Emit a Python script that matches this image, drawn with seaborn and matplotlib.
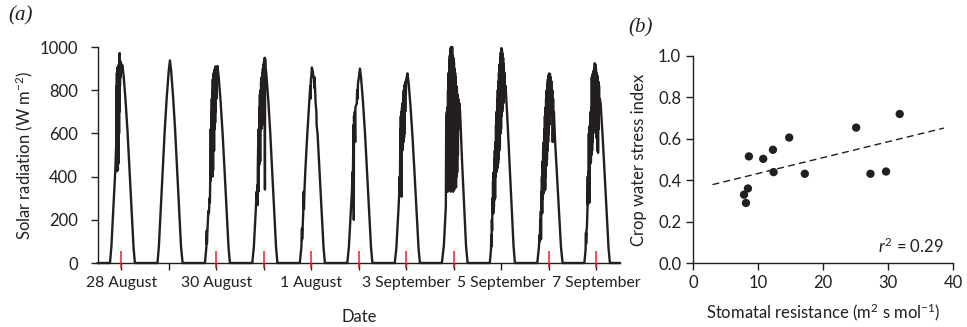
import numpy as np
import pandas as pd
import matplotlib
matplotlib.use("Agg")
import matplotlib.pyplot as plt
import seaborn as sns

# ---- (a) solar radiation, 28 August - 7 September: (hour of day, W m-2) ----
aug28 = [(0, 0), (6.3, 0), (7.0, 73), (8.0, 247), (9.0, 430), (9.5, 560), (9.6, 820), (9.7, 430),
         (9.8, 880), (9.9, 425), (10.0, 900), (10.1, 440), (10.2, 905), (10.3, 430), (10.4, 910),
         (10.5, 460), (10.6, 905), (10.7, 520), (10.8, 920), (10.9, 600), (11.0, 940), (11.1, 700),
         (11.2, 972), (11.35, 820), (11.5, 935), (11.7, 860), (11.9, 925), (12.1, 900), (12.6, 915),
         (13.2, 866), (14.2, 750), (15.2, 604), (16.2, 430), (17.2, 247), (18.2, 73), (18.9, 0)]
aug29 = [(6.3, 0), (7.0, 75), (8.0, 253), (9.0, 441), (10.0, 619), (11.0, 769), (12.0, 891),
         (12.6, 938), (13.2, 891), (14.2, 769), (15.2, 619), (16.2, 441), (17.2, 253), (18.2, 75),
         (19.0, 0)]
aug30 = [(6.3, 0), (7.0, 73), (7.2, 150), (7.3, 90), (7.5, 140), (7.8, 200), (8.0, 240), (8.3, 230),
         (8.6, 300), (8.8, 280), (9.0, 420), (9.1, 380), (9.2, 620), (9.35, 420), (9.5, 700),
         (9.6, 450), (9.75, 760), (9.85, 420), (10.0, 800), (10.1, 400), (10.25, 850), (10.4, 430),
         (10.5, 870), (10.6, 700), (10.75, 880), (10.9, 520), (11.0, 890), (11.15, 620), (11.3, 900),
         (11.45, 650), (11.6, 910), (11.75, 700), (11.9, 900), (12.05, 760), (12.2, 905), (12.4, 840),
         (12.6, 912), (13.2, 866), (14.2, 748), (15.2, 602), (16.2, 429), (17.2, 246), (18.2, 73),
         (18.9, 0)]
aug31 = [(6.2, 0), (7.0, 75), (8.0, 250), (8.4, 330), (8.6, 280), (8.8, 360), (8.9, 268), (9.0, 440),
         (9.2, 560), (9.3, 330), (9.45, 620), (9.6, 450), (9.75, 720), (9.9, 460), (10.05, 780),
         (10.2, 470), (10.35, 800), (10.5, 650), (10.65, 840), (10.8, 620), (10.95, 860), (11.1, 700),
         (11.25, 880), (11.4, 640), (11.55, 900), (11.7, 780), (11.85, 920), (12.0, 800), (12.15, 935),
         (12.3, 860), (12.45, 950), (12.6, 340), (12.7, 945), (12.85, 900), (13.2, 888), (14.2, 767),
         (15.2, 617), (16.2, 439), (17.2, 252), (18.2, 75), (18.9, 0)]
sep01 = [(6.2, 0), (7.0, 72), (7.3, 160), (7.4, 110), (7.8, 200), (8.0, 244), (8.2, 330), (8.3, 250),
         (8.6, 340), (9.0, 425), (10.0, 597), (11.0, 742), (11.5, 820), (11.6, 760), (11.8, 850),
         (12.0, 860), (12.3, 905), (12.6, 895), (13.2, 860), (13.6, 810), (13.7, 860), (14.2, 742),
         (14.6, 700), (14.7, 640), (15.2, 597), (16.2, 425), (17.2, 244), (18.2, 72), (18.9, 0)]
sep02 = [(6.2, 0), (7.0, 72), (8.0, 243), (8.6, 340), (8.8, 420), (9.0, 380), (9.2, 520), (9.3, 480),
         (9.4, 640), (9.5, 200), (9.6, 680), (9.8, 620), (10.0, 700), (10.2, 560), (10.3, 720),
         (11.0, 738), (11.2, 800), (11.4, 760), (11.6, 830), (12.0, 855), (12.6, 900), (13.2, 855),
         (14.2, 738), (15.2, 594), (16.2, 423), (17.2, 243), (18.2, 72), (18.9, 0)]
sep03 = [(6.2, 0), (7.0, 70), (8.0, 237), (8.5, 330), (8.7, 400), (8.8, 330), (9.0, 620), (9.1, 420),
         (9.25, 680), (9.4, 350), (9.55, 700), (9.7, 307), (9.85, 720), (10.0, 520), (10.15, 740),
         (10.3, 540), (10.45, 780), (10.6, 560), (10.75, 800), (10.9, 580), (11.05, 820), (11.2, 600),
         (11.35, 830), (11.5, 700), (11.65, 840), (11.8, 780), (12.0, 850), (12.6, 878), (13.2, 834),
         (14.2, 720), (15.2, 579), (16.2, 413), (17.2, 237), (18.2, 70), (18.9, 0)]
sep04 = [(6.0, 0), (7.0, 80), (8.0, 260), (8.2, 680), (8.35, 330), (8.5, 700), (8.65, 340), (8.8, 720),
         (8.95, 330), (9.1, 800), (9.25, 350), (9.4, 880), (9.55, 340), (9.7, 940), (9.85, 360),
         (10.0, 960), (10.15, 340), (10.3, 990), (10.45, 330), (10.6, 1000), (10.75, 360), (10.9, 985),
         (11.05, 340), (11.2, 1000), (11.35, 380), (11.5, 960), (11.65, 330), (11.8, 950), (11.95, 350),
         (12.1, 930), (12.25, 340), (12.4, 900), (12.55, 360), (12.7, 880), (12.85, 380), (13.0, 860),
         (13.15, 350), (13.3, 820), (13.45, 400), (13.6, 800), (13.75, 420), (13.9, 780), (14.1, 500),
         (14.3, 760), (14.5, 620), (14.8, 740), (15.2, 700), (16.2, 470), (17.2, 270), (18.2, 80),
         (19.0, 0)]
sep05 = [(6.2, 0), (6.8, 60), (7.0, 130), (7.1, 76), (7.25, 200), (7.4, 150), (7.55, 300), (7.7, 230),
         (7.85, 380), (8.0, 230), (8.15, 420), (8.3, 260), (8.45, 480), (8.6, 292), (8.75, 520),
         (8.9, 300), (9.05, 560), (9.2, 400), (9.35, 640), (9.5, 420), (9.65, 700), (9.8, 430),
         (9.95, 760), (10.1, 440), (10.25, 800), (10.4, 460), (10.55, 840), (10.7, 480), (10.85, 880),
         (11.0, 520), (11.15, 920), (11.3, 540), (11.45, 950), (11.6, 600), (11.75, 975), (11.9, 620),
         (12.05, 995), (12.2, 680), (12.35, 985), (12.5, 700), (12.65, 970), (12.8, 720), (12.95, 950),
         (13.1, 740), (13.3, 920), (13.5, 780), (13.7, 880), (13.9, 800), (14.2, 820), (15.2, 650),
         (16.2, 460), (17.2, 260), (18.2, 80), (18.9, 0)]
sep06 = [(6.2, 0), (7.0, 70), (7.4, 130), (7.5, 100), (7.7, 200), (7.8, 120), (8.0, 240), (8.1, 110),
         (8.25, 330), (8.4, 230), (8.55, 400), (8.7, 230), (8.85, 470), (9.0, 300), (9.15, 520),
         (9.3, 320), (9.45, 560), (9.6, 330), (9.75, 620), (9.9, 350), (10.05, 680), (10.2, 340),
         (10.35, 720), (10.5, 400), (10.65, 760), (10.8, 450), (10.95, 800), (11.1, 480), (11.25, 830),
         (11.4, 520), (11.55, 850), (11.7, 560), (11.85, 870), (12.0, 600), (12.2, 878), (12.4, 640),
         (12.6, 875), (12.8, 680), (13.0, 860), (13.2, 700), (13.4, 840), (13.6, 720), (13.8, 800),
         (14.0, 560), (14.2, 760), (14.4, 600), (14.6, 700), (15.2, 565), (16.2, 400), (17.2, 230),
         (18.2, 70), (19.0, 0)]
sep07 = [(6.0, 0), (6.6, 60), (6.8, 140), (6.9, 90), (7.1, 150), (7.3, 170), (7.6, 260), (7.7, 400),
         (7.8, 270), (7.95, 420), (8.1, 290), (8.25, 600), (8.4, 300), (8.55, 630), (8.7, 280),
         (8.85, 640), (9.0, 460), (9.15, 700), (9.3, 470), (9.45, 720), (9.6, 500), (9.75, 860),
         (9.9, 520), (10.05, 870), (10.2, 560), (10.35, 880), (10.5, 600), (10.65, 890), (10.8, 620),
         (10.95, 900), (11.1, 640), (11.25, 925), (11.4, 700), (11.55, 920), (11.7, 720), (11.85, 900),
         (12.0, 580), (12.15, 880), (12.3, 600), (12.45, 870), (12.6, 520), (12.75, 860), (12.9, 510),
         (13.05, 840), (13.2, 620), (13.4, 820), (13.6, 700), (13.8, 760), (14.2, 740), (15.2, 590),
         (16.2, 420), (17.2, 240), (18.2, 70), (18.9, 0), (24, 0)]

days = [aug28, aug29, aug30, aug31, sep01, sep02, sep03, sep04, sep05, sep06, sep07]
date_labels = ["28 August", "30 August", "1 August", "3 September", "5 September", "7 September"]
# days (0 = 28 August) on which the crop was measured
measured_days = [0, 2, 3, 4, 5, 6, 7, 9, 10]

# ---- (b) crop water stress index vs stomatal resistance ----
stomatal_res = [7.85, 8.15, 8.45, 8.6, 10.8, 12.3, 12.4, 14.8, 17.2, 25.1, 27.3, 29.7, 31.8]
cwsi = [0.33, 0.29, 0.36, 0.515, 0.503, 0.547, 0.439, 0.606, 0.431, 0.654, 0.431, 0.442, 0.72]

rows = []
for d, pts in enumerate(days):
    for h, w in pts:
        rows.append((d + h / 24.0, w))
rad = pd.DataFrame(rows, columns=["day", "radiation"])
pts_b = pd.DataFrame({"res": stomatal_res, "cwsi": cwsi})

sns.set_style("ticks")
plt.rcParams["font.family"] = ["Lato", "DejaVu Sans"]
plt.rcParams["mathtext.fontset"] = "custom"
plt.rcParams["mathtext.rm"] = "Lato"
plt.rcParams["mathtext.it"] = "Lato:italic"

ink = "#231f20"
fs = 12

fig = plt.figure(figsize=(9.67, 3.27), dpi=100)
ax1 = fig.add_axes([97.5 / 967, 64 / 327, 522.5 / 967, 216 / 327])
ax2 = fig.add_axes([693 / 967, 64 / 327, 260 / 967, 207 / 327])

# panel (a)
sns.lineplot(data=rad, x="day", y="radiation", ax=ax1, color=ink, lw=1.7,
             estimator=None, sort=False, clip_on=False)
ax1.set_xlim(0, len(days))
ax1.set_ylim(0, 1000)
ax1.set_yticks(np.arange(0, 1001, 200))
ax1.set_xticks([0.5 + 2 * i for i in range(len(date_labels))])
ax1.set_xticklabels(date_labels)
ax1.set_xticks([1.5 + 2 * i for i in range(len(date_labels) - 1)], minor=True)
ax1.tick_params(axis="x", which="both", length=5, width=1, color=ink, pad=4,
                labelsize=11.3, labelcolor=ink)
ax1.tick_params(axis="y", length=5, width=1, color=ink, pad=9, labelsize=fs, labelcolor=ink)
ax1.vlines([d + 0.5 for d in measured_days], -25, 55, colors="#e8202a", lw=1.1,
           clip_on=False, zorder=5)
ax1.set_xlabel("Date", fontsize=fs, color=ink, labelpad=14)
ax1.set_ylabel("Solar radiation (W m$^{-2}$)", fontsize=fs, color=ink, labelpad=3)
sns.despine(ax=ax1)

# panel (b)
sns.scatterplot(data=pts_b, x="res", y="cwsi", ax=ax2, color=ink, s=36,
                edgecolor="none", zorder=3)
slope, intercept = np.polyfit(stomatal_res, cwsi, 1)
fit_x = np.array([3.0, 38.6])
ax2.plot(fit_x, intercept + slope * fit_x, ls=(0, (5, 3)), color=ink, lw=1)
ax2.set_xlim(0, 40)
ax2.set_ylim(0, 1.0)
ax2.set_xticks(np.arange(0, 41, 10))
ax2.set_yticks(np.arange(0, 1.01, 0.2))
ax2.set_yticklabels([f"{v:.1f}" for v in np.arange(0, 1.01, 0.2)])
ax2.tick_params(length=5, width=1, color=ink, labelsize=fs, labelcolor=ink)
ax2.set_xlabel("Stomatal resistance (m$^2$ s mol$^{-1}$)", fontsize=fs, color=ink, labelpad=8)
ax2.set_ylabel("Crop water stress index", fontsize=fs, color=ink, labelpad=8)
ax2.text(38.6, 0.08, "$r^2$ = 0.29", ha="right", va="center", fontsize=fs, color=ink)
sns.despine(ax=ax2)

for ax in (ax1, ax2):
    for s in ("left", "bottom"):
        ax.spines[s].set_color(ink)
        ax.spines[s].set_linewidth(1)

# panel letters
fig.text(8 / 967, 1 - 16 / 327, "(a)", fontsize=15, va="center", color=ink,
         family=["Liberation Serif", "DejaVu Serif"], style="italic")
fig.text(628 / 967, 1 - 28 / 327, "(b)", fontsize=15, va="center", color=ink,
         family=["Liberation Serif", "DejaVu Serif"], style="italic")

fig.savefig("out.png", dpi=100)
